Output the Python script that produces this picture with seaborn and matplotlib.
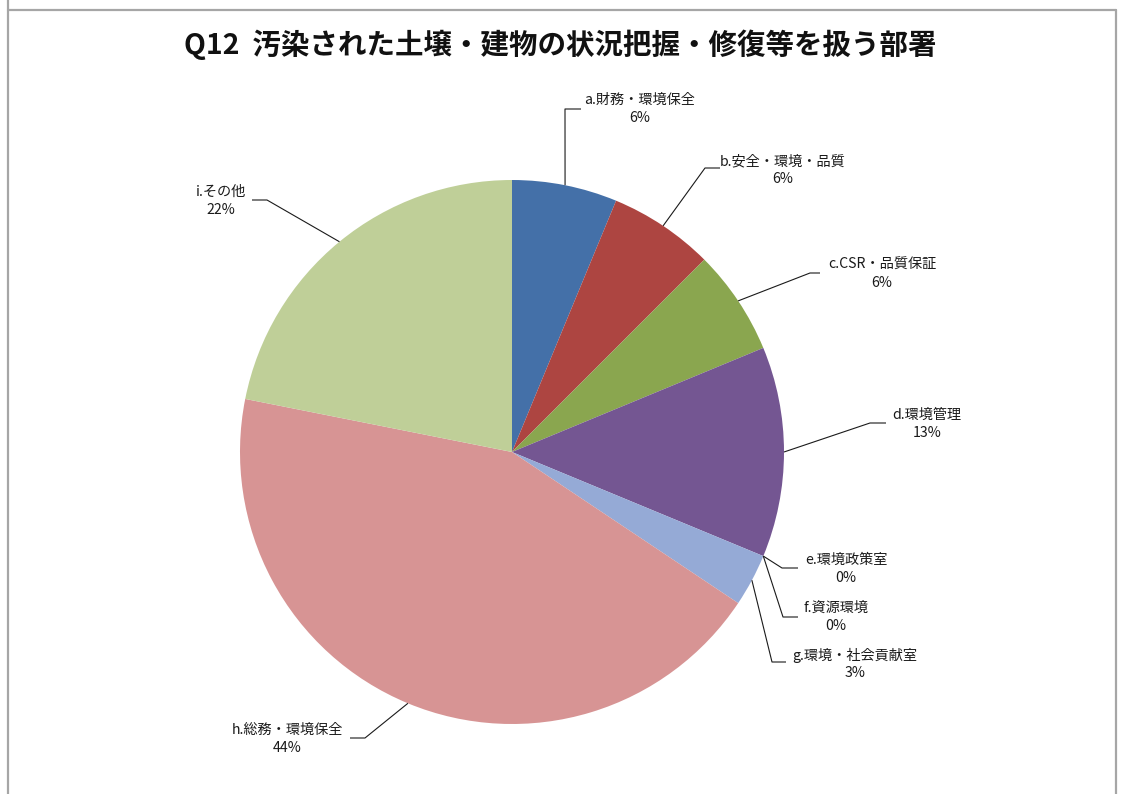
import numpy as np
import matplotlib
matplotlib.use("Agg")
import matplotlib.pyplot as plt
import seaborn as sns

# ---- data ----
categories = ["a.財務・環境保全", "b.安全・環境・品質", "c.CSR・品質保証", "d.環境管理",
              "e.環境政策室", "f.資源環境", "g.環境・社会貢献室", "h.総務・環境保全", "i.その他"]
responses = [2, 2, 2, 4, 0, 0, 1, 14, 7]
title = "Q12  汚染された土壌・建物の状況把握・修復等を扱う部署"

# ---- style ----
sns.set_theme(style="white")
plt.rcParams['font.family'] = ['Noto Sans CJK JP', 'DejaVu Sans']
colors = sns.color_palette(["#4470A8", "#AD4541", "#8AA64F", "#745692", "#4BACC6",
                            "#F79646", "#95AAD6", "#D79494", "#BFCF98"])

W, H = 1122, 794
fig = plt.figure(figsize=(W / 100, H / 100), dpi=100)
ax = fig.add_axes([0, 0, 1, 1])

cx, cy, R = 512, H - 452, 272
wedges, _ = ax.pie(responses, colors=colors, startangle=90, counterclock=False,
                   center=(cx, cy), radius=R, frame=True,
                   wedgeprops=dict(linewidth=0))
ax.set_xlim(0, W)
ax.set_ylim(0, H)
ax.set_aspect("auto")
ax.axis("off")

total = sum(responses)
pcts = [int(v / total * 100 + 0.5) for v in responses]

# label layout (pixel coords from top-left): text center, elbow point, line end
text_pos = [(640, 109), (783, 170), (882, 274), (927, 424), (846, 569),
            (836, 617), (855, 664), (287, 739), (221, 201)]
elbows = [(565, 109), (705, 168), (810, 273), (870, 423), (782, 568),
          (783, 617), (772, 662), (365, 738), (267, 200)]
ends = [(581, 109), (720, 168), (820, 273), (886, 423), (798, 568),
        (798, 617), (786, 662), (350, 738), (252, 200)]

for w, lab, p, tp, el, en in zip(wedges, categories, pcts, text_pos, elbows, ends):
    ang = np.deg2rad((w.theta1 + w.theta2) / 2)
    sx, sy = cx + R * np.cos(ang), cy + R * np.sin(ang)
    ax.plot([sx, el[0], en[0]], [sy, H - el[1], H - en[1]], color="#1a1a1a", lw=0.8,
            solid_capstyle="butt")
    ax.text(tp[0], H - tp[1], f"{lab}\n{p}%", ha="center", va="center",
            multialignment="center", fontsize=10.2, color="#1a1a1a", linespacing=1.35)

fig.text(560 / W, 1 - 45 / H, title, ha="center", va="center", fontsize=20.5,
         fontweight="bold", color="#111111")

# chart-area border
bc = "#a6a6a6"
ax.plot([8, 8], [H + 5, -5], color=bc, lw=1.6, clip_on=False)
ax.plot([8, 1116], [H - 10, H - 10], color=bc, lw=1.6)
ax.plot([1116, 1116], [H - 10, -5], color=bc, lw=1.6, clip_on=False)

fig.savefig("out.png", dpi=100)
